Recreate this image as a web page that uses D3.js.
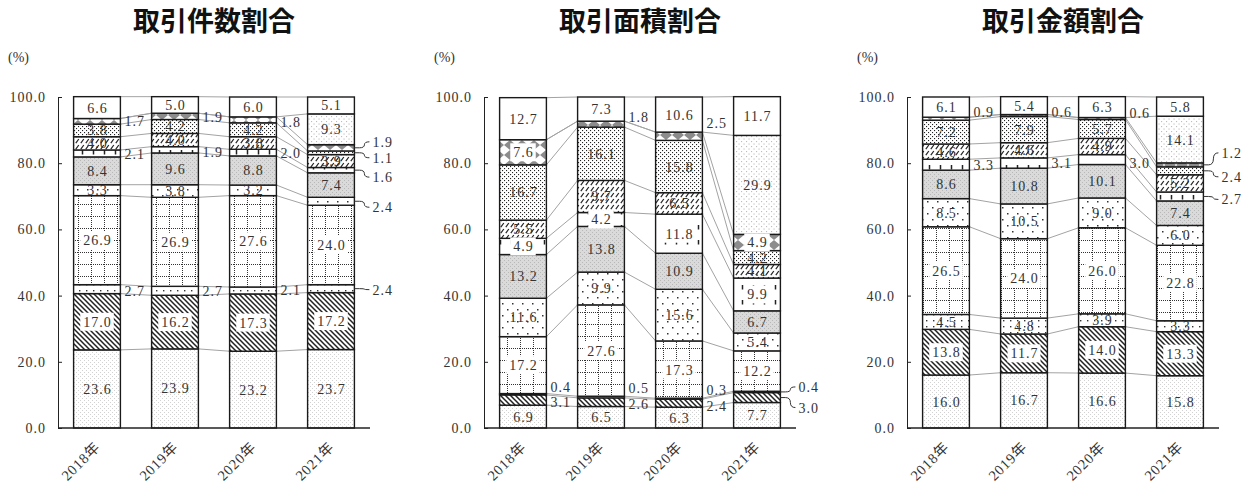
<!DOCTYPE html>
<html><head><meta charset="utf-8">
<script src="https://cdn.jsdelivr.net/npm/d3@7"></script>
<style>body{margin:0;background:#fff} svg{display:block}</style>
</head><body><script>
// ---------------- data ----------------
const years = ["2018年","2019年","2020年","2021年"];
const titles = ["取引件数割合","取引面積割合","取引金額割合"];
const yTickValues = [0,20,40,60,80,100];
// series listed bottom -> top, one value per year
const countValues = [
 [23.6,23.9,23.2,23.7],
 [17.0,16.2,17.3,17.2],
 [2.7,2.7,2.1,2.4],
 [26.9,26.9,27.6,24.0],
 [3.3,3.8,3.2,2.4],
 [8.4,9.6,8.8,7.4],
 [2.1,1.9,2.0,1.6],
 [4.0,4.0,3.8,3.9],
 [3.8,4.2,4.2,1.1],
 [1.7,1.9,1.8,1.9],
 [0,0,0,9.3],
 [6.6,5.0,6.0,5.1]
];
const areaValues = [
 [6.9,6.5,6.3,7.7],
 [3.1,2.6,2.4,3.0],
 [0.4,0.5,0.3,0.4],
 [17.2,27.6,17.3,12.2],
 [11.6,9.9,15.6,5.4],
 [13.2,13.8,10.9,6.7],
 [4.9,4.2,11.8,9.9],
 [5.5,9.7,6.5,4.1],
 [16.7,16.1,15.8,4.2],
 [7.6,1.8,2.5,4.9],
 [0,0,0,29.9],
 [12.7,7.3,10.6,11.7]
];
const amountValues = [
 [16.0,16.7,16.6,15.8],
 [13.8,11.7,14.0,13.3],
 [4.5,4.8,3.9,3.3],
 [26.5,24.0,26.0,22.8],
 [8.5,10.5,9.0,6.0],
 [8.6,10.8,10.1,7.4],
 [3.3,3.1,3.0,2.7],
 [4.6,4.6,4.9,5.2],
 [7.2,7.9,5.7,2.4],
 [0.9,0.6,0.6,1.2],
 [0,0,0,14.1],
 [6.1,5.4,6.3,5.8]
];

// ---------------- layout ----------------
const W = 1255, H = 484;
const panelLeft = [58, 484, 907];
const panelWidth = 312;
// labels placed outside the bar: [series, yearIndex, vertical offset px]
const outsideLabels = [
 [[2,0,2],[2,1,0],[2,2,0],[6,0,1],[6,1,2],[6,2,0],[9,0,0],[9,1,1],[9,2,2],
  [9,3,-6],[8,3,5],[6,3,7],[4,3,6],[2,3,1]],
 [[1,0,2],[2,0,-7],[1,1,2],[2,1,-9],[1,2,3],[2,2,-9],[9,1,-7],[9,2,-13],
  [2,3,-5],[1,3,10]],
 [[9,0,-7],[9,1,-4],[9,2,-6],[6,0,0],[6,1,0],[6,2,3],
  [9,3,-12],[8,3,6],[6,3,3]]
];
const boxedSeries = new Set([1,3,6,9]);
const numFont = "'Liberation Serif','Noto Sans CJK JP',serif";

const svg = d3.select("body").append("svg").attr("width", W).attr("height", H);
const defs = svg.append("defs");

function makePattern(id, w, h, bg) {
  const p = defs.append("pattern").attr("id", id)
    .attr("patternUnits", "userSpaceOnUse").attr("width", w).attr("height", h);
  p.append("rect").attr("width", w).attr("height", h).attr("fill", bg || "#fff");
  return p;
}
function dots(p, pts, s, c) {
  pts.forEach(([x, yy]) => p.append("rect").attr("x", x).attr("y", yy)
    .attr("width", s).attr("height", s).attr("fill", c));
}
let p;
p = makePattern("p0", 4, 4); dots(p, [[0,0],[2,2]], 1, "#d2d2d2");
p = makePattern("p1", 5, 5);
p.append("path").attr("d", "M-1,-1 L6,6 M-1,4 L1,6 M4,-1 L6,1")
  .attr("stroke", "#222").attr("stroke-width", 1.5);
p = makePattern("p2", 7, 6); dots(p, [[2,2]], 1.4, "#333");
p = makePattern("p3", 13, 12);
p.append("path").attr("d", "M0.5,0 V12 M0,0.5 H13").attr("stroke", "#333")
  .attr("stroke-width", 1).attr("stroke-dasharray", "1,1");
p = makePattern("p4", 10, 12); dots(p, [[2,3],[7,9]], 1.5, "#333");
p = makePattern("p5", 4, 4, "#dadada"); dots(p, [[0,0],[2,2]], 1, "#b8b8b8");
p = makePattern("p6", 11, 15);
p.append("path").attr("d", "M5.5,0 V4.5").attr("stroke", "#222").attr("stroke-width", 1.5);
p = makePattern("p7", 5, 6);
p.append("path").attr("d", "M0.8,5.2 L3.8,1").attr("stroke", "#222").attr("stroke-width", 1.2);
p = makePattern("p8", 4, 4); dots(p, [[0,0],[2,2]], 1.1, "#222");
p = makePattern("p9", 12, 10);
p.append("polygon").attr("points", "6,0 12,5 6,10 0,5").attr("fill", "#8c8c8c");
p = makePattern("p10", 5, 5); dots(p, [[1,1],[3.5,3.5]], 1.1, "#bdbdbd");
p = makePattern("p11", 4, 4);

const y = d3.scaleLinear().domain([0, 100]).range([428, 97]);
const fmt = d3.format(".1f");

[countValues, areaValues, amountValues].forEach((vals, pi) => {
  const x0 = panelLeft[pi];
  const x = d3.scaleBand().domain(years).range([x0, x0 + panelWidth])
    .paddingInner(0.4).paddingOuter(0.2);
  const bw = x.bandwidth();
  const rows = years.map((yr, i) => {
    const o = { year: yr };
    vals.forEach((s, k) => o[k] = s[i]);
    return o;
  });
  const keys = d3.range(vals.length);
  const stacked = d3.stack().keys(keys)(rows);
  const g = svg.append("g");

  // title
  g.append("text").attr("x", x0 + panelWidth / 2).attr("y", 31)
    .attr("text-anchor", "middle").attr("font-family", "'Noto Sans CJK JP',sans-serif")
    .attr("font-weight", "bold").attr("font-size", 27).attr("fill", "#111")
    .text(titles[pi]);
  g.append("text").attr("x", x0 - 50).attr("y", 62)
    .attr("font-family", numFont).attr("font-size", 14).attr("fill", "#333").text("(%)");

  // series lines
  stacked.forEach(layer => {
    for (let i = 0; i < years.length - 1; i++) {
      g.append("line")
        .attr("x1", x(years[i]) + bw).attr("y1", y(layer[i][1]))
        .attr("x2", x(years[i + 1])).attr("y2", y(layer[i + 1][1]))
        .attr("stroke", "#a3a3a3").attr("stroke-width", 1);
    }
  });

  // bars
  stacked.forEach(layer => {
    const k = layer.key;
    layer.forEach((d, i) => {
      if (d[1] - d[0] <= 0) return;
      g.append("rect").attr("x", x(years[i])).attr("width", bw)
        .attr("y", y(d[1])).attr("height", y(d[0]) - y(d[1]))
        .attr("fill", `url(#p${k})`).attr("stroke", "#1a1a1a").attr("stroke-width", 1.4);
    });
  });

  // labels
  const outMap = new Map(outsideLabels[pi].map(([s, i, dy]) => [s + "_" + i, dy]));
  stacked.forEach(layer => {
    const k = layer.key;
    layer.forEach((d, i) => {
      const v = vals[k][i];
      if (!v) return;
      const mid = y((d[0] + d[1]) / 2);
      const key = k + "_" + i;
      if (outMap.has(key)) {
        const dy = outMap.get(key);
        const xr = x(years[i]) + bw;
        let tx;
        if (i === years.length - 1) {
          const ly = mid + dy;
          const path = dy === 0 ? `M${xr},${mid} H${xr + 15}` :
            `M${xr},${mid} L${xr + 5},${mid} Q${xr + 10},${mid} ${xr + 10},${(mid + ly) / 2} Q${xr + 10},${ly} ${xr + 15},${ly}`;
          g.append("path").attr("d", path).attr("fill", "none")
            .attr("stroke", "#333").attr("stroke-width", 1);
          tx = xr + 18;
        } else {
          tx = xr + 4;
        }
        g.append("text").attr("x", tx).attr("y", mid + dy + 5)
          .attr("font-family", numFont).attr("font-size", 14).attr("fill", "#333")
          .attr("letter-spacing", "1px").text(fmt(v));
      } else {
        const cx = x(years[i]) + bw / 2;
        const t = g.append("text").attr("x", cx + 0.5).attr("y", mid + 5)
          .attr("text-anchor", "middle").attr("font-family", numFont)
          .attr("font-size", 14).attr("fill", "#333").attr("letter-spacing", "1px")
          .text(fmt(v));
        if (boxedSeries.has(k)) {
          const bb = t.node().getBBox();
          g.insert("rect", () => t.node()).attr("x", bb.x - 3).attr("y", mid - 9)
            .attr("width", bb.width + 5).attr("height", 18).attr("fill", "#fff");
        }
      }
    });
  });

  // axes
  const ya = g.append("g").attr("transform", `translate(${x0},0)`)
    .call(d3.axisLeft(y).tickValues(yTickValues).tickSize(-4).tickSizeOuter(0)
      .tickPadding(12).tickFormat(fmt));
  ya.select(".domain").attr("stroke", "#222");
  ya.selectAll(".tick line").attr("stroke", "#222");
  ya.selectAll(".tick text").attr("font-family", numFont).attr("font-size", 14)
    .attr("fill", "#333").attr("letter-spacing", "1px");

  g.append("line").attr("x1", x0).attr("x2", x0 + panelWidth)
    .attr("y1", y(0)).attr("y2", y(0)).attr("stroke", "#222").attr("stroke-width", 1.3);
  years.forEach(yr => {
    g.append("text")
      .attr("transform", `translate(${x(yr) + bw / 2 + 4},448) rotate(-45)`)
      .attr("text-anchor", "end").attr("font-family", numFont).attr("font-size", 14.5)
      .attr("letter-spacing", "0.8px").attr("fill", "#333").text(yr);
  });
});
</script></body></html>
